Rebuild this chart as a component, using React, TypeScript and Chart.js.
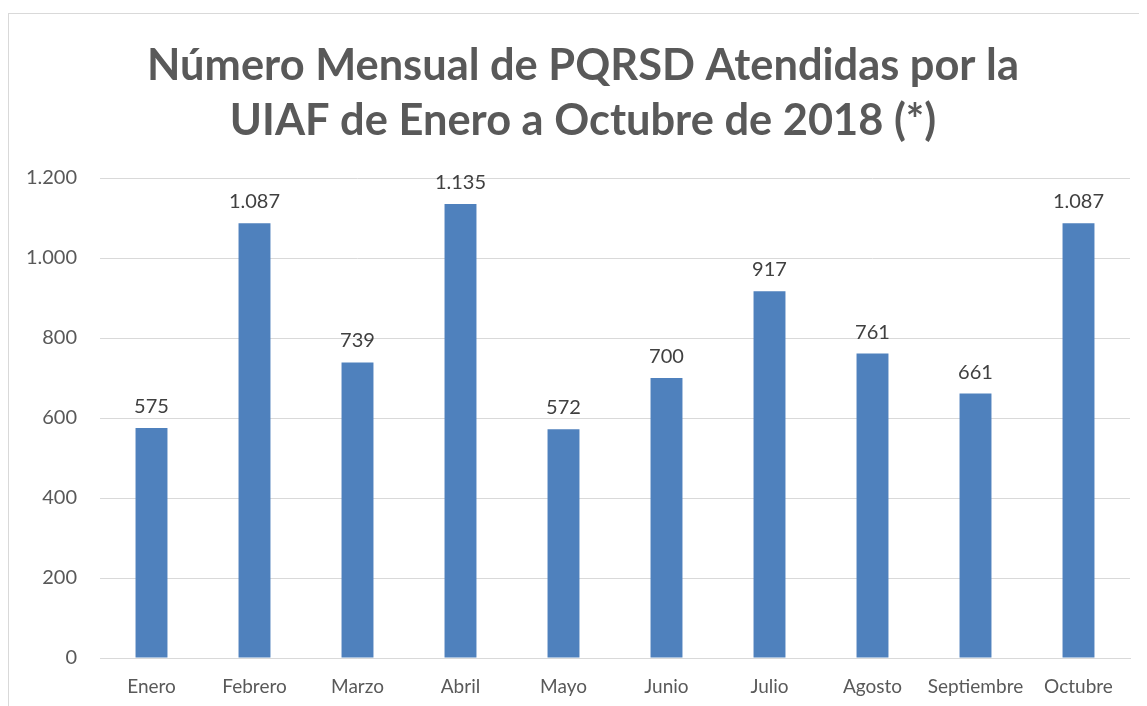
import React, { useEffect, useRef } from "react";
import { Chart, registerables } from "chart.js";

Chart.register(...registerables);

const categories = ["Enero", "Febrero", "Marzo", "Abril", "Mayo", "Junio", "Julio", "Agosto", "Septiembre", "Octubre"];
const values = [575, 1087, 739, 1135, 572, 700, 917, 761, 661, 1087];
const titleLines = ["Número Mensual de PQRSD Atendidas por la", "UIAF de Enero a Octubre de 2018 (*)"];
const yTicks = [0, 200, 400, 600, 800, 1000, 1200];

const FONT = "Lato, 'Open Sans', sans-serif";

const fmt = (v: number) => v.toString().replace(/\B(?=(\d{3})+(?!\d))/g, ".");

const framePlugin = {
  id: "frame",
  afterLayout(chart: any) {
    // center the title over the whole chart frame
    const t = chart.titleBlock;
    if (t) {
      t.left = 0;
      t.right = chart.width;
      t.width = chart.width;
    }
  },
  beforeDraw(chart: any) {
    const ctx = chart.ctx;
    ctx.save();
    ctx.strokeStyle = "#d9d9d9";
    ctx.lineWidth = 1;
    ctx.strokeRect(0.5, 0.5, chart.width - 1, chart.height - 1);
    ctx.restore();
  },
};

const labelPlugin = {
  id: "barLabels",
  afterDatasetsDraw(chart: any) {
    const ctx = chart.ctx;
    const meta = chart.getDatasetMeta(0);
    ctx.save();
    ctx.font = `20px ${FONT}`;
    ctx.fillStyle = "#404040";
    ctx.textAlign = "center";
    ctx.textBaseline = "alphabetic";
    meta.data.forEach((bar: any, i: number) => {
      ctx.fillText(fmt(values[i]), bar.x, bar.y - 15);
    });
    ctx.restore();
  },
};

export default function App() {
  const ref = useRef<HTMLCanvasElement>(null);
  useEffect(() => {
    if (!ref.current) return;
    const chart = new Chart(ref.current, {
      type: "bar",
      data: {
        labels: categories,
        datasets: [
          {
            data: values,
            backgroundColor: "#4F81BD",
            borderWidth: 0,
            categoryPercentage: 1,
            barPercentage: 0.31,
          },
        ],
      },
      options: {
        responsive: false,
        animation: false,
        devicePixelRatio: 1,
        layout: { padding: { left: 0, right: 28, top: 0, bottom: 0 } },
        plugins: {
          legend: { display: false },
          tooltip: { enabled: false },
          title: {
            display: true,
            text: titleLines,
            color: "#595959",
            font: { family: FONT, size: 43.4, weight: "bold", lineHeight: 55 / 43.4 },
            padding: { top: 25, bottom: 30 },
          },
        },
        scales: {
          x: {
            grid: { display: false, drawTicks: false },
            border: { display: true, color: "#d9d9d9" },
            ticks: { color: "#595959", font: { family: FONT, size: 19 }, padding: 17, maxRotation: 0, autoSkip: false },
            afterFit(scale: any) {
              scale.height = 55;
            },
          },
          y: {
            min: 0,
            max: 1200,
            afterBuildTicks(scale: any) {
              scale.ticks = yTicks.map((v) => ({ value: v }));
            },
            grid: { color: "#d9d9d9", drawTicks: false },
            border: { display: false },
            ticks: {
              color: "#595959",
              font: { family: FONT, size: 20 },
              padding: 23,
              callback: (v: any) => fmt(Number(v)),
            },
            afterFit(scale: any) {
              scale.width = 92;
            },
          },
        },
      },
      plugins: [framePlugin, labelPlugin],
    });
    return () => chart.destroy();
  }, []);
  return (
    <div style={{ width: 1139, height: 693, marginTop: 5, overflow: "hidden", position: "relative" }}>
      <canvas ref={ref} width={1150} height={700} style={{ display: "block" }} />
    </div>
  );
}
